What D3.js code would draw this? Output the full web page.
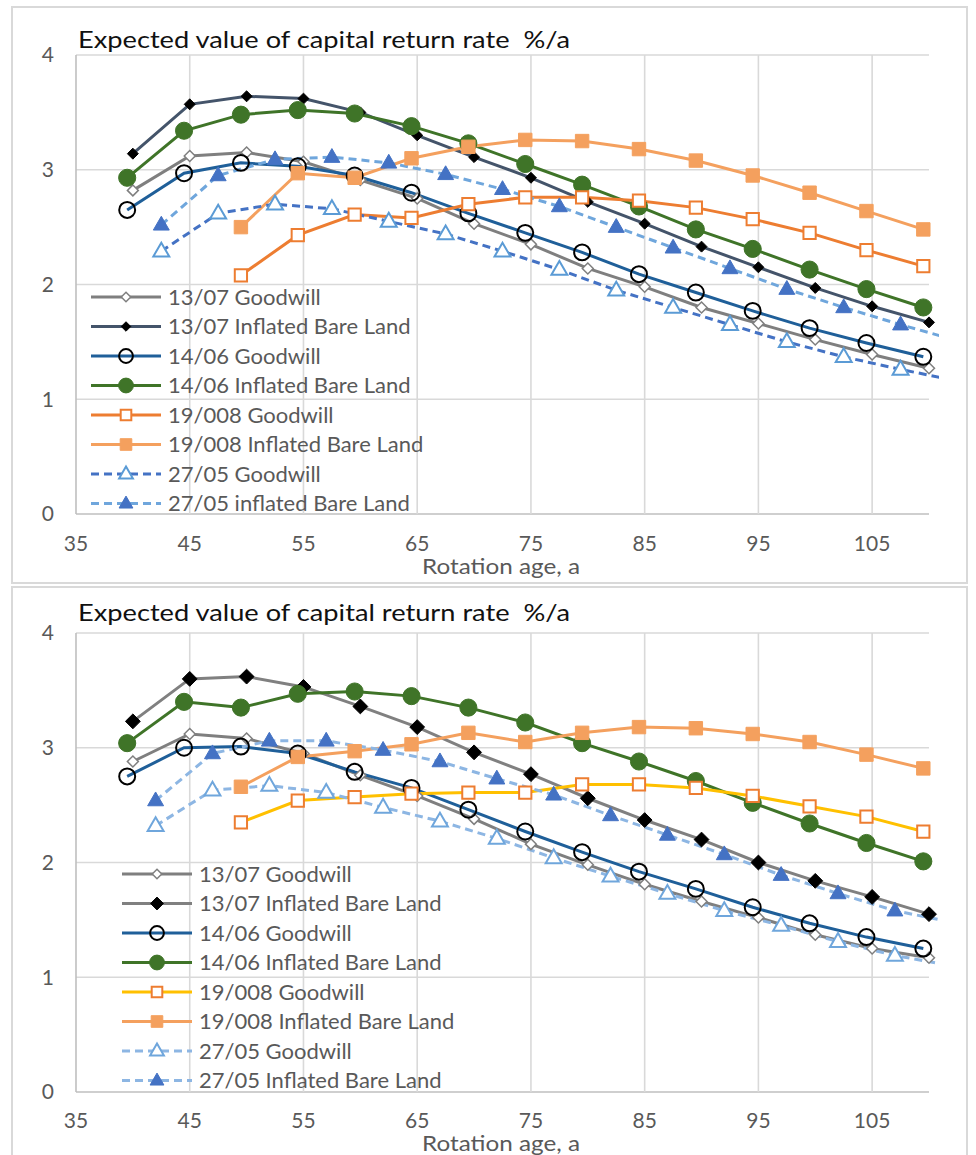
<!DOCTYPE html>
<html><head><meta charset="utf-8">
<script src="https://cdn.jsdelivr.net/npm/d3@7"></script>
<style>body{margin:0;background:#fff}svg{display:block}text{font-family:Lato,"Open Sans",sans-serif;white-space:pre}</style>
</head><body>
<svg id="c" width="976" height="1155"></svg>
<script>
// ---------- data ----------
const titleText = "Expected value of capital return rate  %/a";
const xAxisTitle = "Rotation age, a";
const xTicks = [35,45,55,65,75,85,95,105];
const yTicks = [0,1,2,3,4];

const x13 = [40,45,50,55,60,65,70,75,80,85,90,95,100,105,110];
const x14 = [39.5,44.5,49.5,54.5,59.5,64.5,69.5,74.5,79.5,84.5,89.5,94.5,99.5,104.5,109.5];
const x19 = [49.5,54.5,59.5,64.5,69.5,74.5,79.5,84.5,89.5,94.5,99.5,104.5,109.5];
const x27top = [42.5,47.5,52.5,57.5,62.5,67.5,72.5,77.5,82.5,87.5,92.5,97.5,102.5,107.5,112.5];
const x27bot = [42,47,52,57,62,67,72,77,82,87,92,97,102,107,112];

// top chart
const top13G = [2.82,3.12,3.15,3.07,2.91,2.75,2.53,2.35,2.14,1.98,1.80,1.66,1.52,1.39,1.27];
const top13I = [3.14,3.57,3.64,3.62,3.50,3.30,3.11,2.93,2.72,2.53,2.33,2.15,1.97,1.81,1.67];
const top14G = [2.65,2.97,3.06,3.03,2.95,2.80,2.62,2.45,2.28,2.09,1.93,1.77,1.62,1.49,1.37];
const top14I = [2.93,3.34,3.48,3.52,3.49,3.38,3.23,3.05,2.87,2.68,2.48,2.31,2.13,1.96,1.80];
const top19G = [2.08,2.43,2.61,2.58,2.70,2.76,2.76,2.73,2.67,2.57,2.45,2.30,2.16];
const top19I = [2.50,2.97,2.93,3.10,3.20,3.26,3.25,3.18,3.08,2.95,2.80,2.64,2.48];
const top27G = [2.29,2.62,2.70,2.66,2.55,2.44,2.29,2.13,1.95,1.80,1.65,1.50,1.37,1.26,1.16];
const top27I = [2.52,2.95,3.09,3.11,3.06,2.96,2.83,2.68,2.50,2.32,2.14,1.96,1.80,1.65,1.51];

// bottom chart
const bot13G = [2.88,3.12,3.08,2.95,2.76,2.58,2.38,2.16,1.98,1.81,1.66,1.52,1.37,1.25,1.17];
const bot13I = [3.23,3.60,3.62,3.53,3.36,3.18,2.96,2.77,2.56,2.37,2.20,2.00,1.84,1.70,1.55];
const bot14G = [2.75,3.00,3.01,2.95,2.79,2.65,2.46,2.27,2.09,1.92,1.77,1.61,1.47,1.35,1.25];
const bot14I = [3.04,3.40,3.35,3.47,3.49,3.45,3.35,3.22,3.04,2.88,2.71,2.52,2.34,2.17,2.01];
const bot19G = [2.35,2.54,2.57,2.60,2.61,2.61,2.68,2.68,2.65,2.58,2.49,2.40,2.27];
const bot19I = [2.66,2.92,2.97,3.03,3.13,3.05,3.13,3.18,3.17,3.12,3.05,2.94,2.82];
const bot27G = [2.32,2.63,2.67,2.61,2.48,2.36,2.21,2.04,1.88,1.73,1.58,1.45,1.31,1.19,1.10];
const bot27I = [2.54,2.95,3.06,3.06,2.98,2.88,2.73,2.59,2.41,2.24,2.07,1.89,1.73,1.58,1.48];

const topNames = ["13/07 Goodwill","13/07 Inflated Bare Land","14/06 Goodwill","14/06 Inflated Bare Land","19/008 Goodwill","19/008 Inflated Bare Land","27/05 Goodwill","27/05 inflated Bare Land"];
const botNames = ["13/07 Goodwill","13/07 Inflated Bare Land","14/06 Goodwill","14/06 Inflated Bare Land","19/008 Goodwill","19/008 Inflated Bare Land","27/05 Goodwill","27/05 Inflated Bare Land"];

// ---------- markers ----------
const shapes = {
  diamond: {draw(ctx,size){const r=Math.sqrt(size/2);ctx.moveTo(0,-r);ctx.lineTo(r,0);ctx.lineTo(0,r);ctx.lineTo(-r,0);ctx.closePath();}},
  circle: d3.symbolCircle,
  square: d3.symbolSquare,
  triangle: {draw(ctx,size){const s=Math.sqrt(size*4/Math.sqrt(3));const h=s*Math.sqrt(3)/2;ctx.moveTo(0,-h*0.62);ctx.lineTo(s/2,h*0.38);ctx.lineTo(-s/2,h*0.38);ctx.closePath();}}
};

const topSeries = [
  {x:x13,y:top13G,line:"#7f7f7f",shape:"diamond",size:60,fill:"#fff",stroke:"#7f7f7f",sw:1.5,dash:null},
  {x:x13,y:top13I,line:"#44546a",shape:"diamond",size:60,fill:"#000",stroke:"#000",sw:1,dash:null},
  {x:x14,y:top14G,line:"#1f5f99",shape:"circle",size:200,fill:"none",stroke:"#000",sw:2,dash:null},
  {x:x14,y:top14I,line:"#3f7428",shape:"circle",size:230,fill:"#3f7428",stroke:"#3f7428",sw:1,dash:null},
  {x:x19,y:top19G,line:"#ed7d31",shape:"square",size:150,fill:"#fff",stroke:"#ed7d31",sw:2,dash:null},
  {x:x19,y:top19I,line:"#f4a05e",shape:"square",size:180,fill:"#f4a05e",stroke:"#f4a05e",sw:1,dash:null},
  {x:x27top,y:top27G,line:"#4472c4",shape:"triangle",size:110,fill:"#fff",stroke:"#5b9bd5",sw:2,dash:"8,5"},
  {x:x27top,y:top27I,line:"#6fa6dc",shape:"triangle",size:110,fill:"#4472c4",stroke:"#4472c4",sw:1,dash:"8,5"}
];
const botSeries = [
  {x:x13,y:bot13G,line:"#7f7f7f",shape:"diamond",size:60,fill:"#fff",stroke:"#7f7f7f",sw:1.5,dash:null},
  {x:x13,y:bot13I,line:"#808080",shape:"diamond",size:110,fill:"#000",stroke:"#000",sw:1,dash:null},
  {x:x14,y:bot14G,line:"#1f5f99",shape:"circle",size:200,fill:"none",stroke:"#000",sw:2,dash:null},
  {x:x14,y:bot14I,line:"#3f7428",shape:"circle",size:230,fill:"#3f7428",stroke:"#3f7428",sw:1,dash:null},
  {x:x19,y:bot19G,line:"#ffc000",shape:"square",size:150,fill:"#fff",stroke:"#ed7d31",sw:2,dash:null},
  {x:x19,y:bot19I,line:"#f4a05e",shape:"square",size:180,fill:"#f4a05e",stroke:"#f4a05e",sw:1,dash:null},
  {x:x27bot,y:bot27G,line:"#8db6e3",shape:"triangle",size:110,fill:"#fff",stroke:"#6fa6dc",sw:2,dash:"8,5"},
  {x:x27bot,y:bot27I,line:"#8db6e3",shape:"triangle",size:110,fill:"#4472c4",stroke:"#4472c4",sw:1,dash:"8,5"}
];

const svg = d3.select("#c");

// panel borders
svg.append("rect").attr("x",12).attr("y",7).attr("width",955).attr("height",576).attr("fill","none").attr("stroke","#d9d9d9").attr("stroke-width",2);
svg.append("rect").attr("x",12).attr("y",587).attr("width",955).attr("height",580).attr("fill","none").attr("stroke","#d9d9d9").attr("stroke-width",2);

function chart(cfg){
  const g = svg.append("g");
  const x = d3.scaleLinear().domain([35,110]).range([76,929]);
  const y = d3.scaleLinear().domain([0,4]).range([cfg.bottom,cfg.top]);
  // grid
  g.append("g").selectAll("line").data(yTicks).join("line")
    .attr("x1",x(35)).attr("x2",x(110)).attr("y1",d=>y(d)).attr("y2",d=>y(d))
    .attr("stroke",d=>d===0?"#bfbfbf":"#d9d9d9").attr("stroke-width",1.6);
  g.append("g").selectAll("line").data(xTicks).join("line")
    .attr("x1",d=>x(d)).attr("x2",d=>x(d)).attr("y1",y(0)).attr("y2",y(4))
    .attr("stroke",d=>d===35?"#bfbfbf":"#d9d9d9").attr("stroke-width",1.6);
  // tick labels
  g.append("g").selectAll("text").data(yTicks).join("text")
    .attr("x",54).attr("y",d=>y(d)).attr("dy","0.35em").attr("text-anchor","end")
    .attr("font-size",21).attr("fill","#595959").text(d=>d);
  g.append("g").selectAll("text").data(xTicks).join("text")
    .attr("x",d=>x(d)).attr("y",cfg.xLabY).attr("text-anchor","middle")
    .attr("font-size",21).attr("fill","#595959").text(d=>d);
  g.append("text").attr("x",501).attr("y",cfg.xLabY+23).attr("text-anchor","middle")
    .attr("font-size",21).attr("fill","#595959")
    .attr("textLength",158).attr("lengthAdjust","spacingAndGlyphs").text(xAxisTitle);
  g.append("text").attr("x",78).attr("y",cfg.titleY).attr("font-size",24).attr("fill","#111")
    .attr("textLength",492).attr("lengthAdjust","spacingAndGlyphs").text(titleText);
  // clip
  const cid = "clip"+cfg.id;
  svg.append("clipPath").attr("id",cid).append("rect")
    .attr("x",x(35)).attr("y",y(4)-12).attr("width",x(110)-x(35)+10).attr("height",y(0)-y(4)+12);
  const plot = g.append("g").attr("clip-path",`url(#${cid})`);
  const line = d3.line().x(d=>x(d[0])).y(d=>y(d[1]));
  cfg.series.forEach(s=>{
    const pts = s.x.map((v,i)=>[v,s.y[i]]);
    plot.append("path").datum(pts).attr("d",line).attr("fill","none")
      .attr("stroke",s.line).attr("stroke-width",3).attr("stroke-dasharray",s.dash);
  });
  cfg.series.forEach(s=>{
    const pts = s.x.map((v,i)=>[v,s.y[i]]).filter(p=>p[0]<=110);
    plot.append("g").selectAll("path").data(pts).join("path")
      .attr("transform",d=>`translate(${x(d[0])},${y(d[1])})`)
      .attr("d",d3.symbol().type(shapes[s.shape]).size(s.size))
      .attr("fill",s.fill).attr("stroke",s.stroke).attr("stroke-width",s.sw);
  });
  // legend
  const lg = g.append("g");
  cfg.series.forEach((s,i)=>{
    const ly = cfg.legY + i*29.5;
    lg.append("line").attr("x1",cfg.legX).attr("x2",cfg.legX+70).attr("y1",ly).attr("y2",ly)
      .attr("stroke",s.line).attr("stroke-width",3).attr("stroke-dasharray",s.dash);
    lg.append("path").attr("transform",`translate(${cfg.legX+35},${ly})`)
      .attr("d",d3.symbol().type(shapes[s.shape]).size(s.size*0.75))
      .attr("fill",s.fill).attr("stroke",s.stroke).attr("stroke-width",s.sw);
    lg.append("text").attr("x",cfg.legX+77).attr("y",ly).attr("dy","0.35em")
      .attr("font-size",22).attr("fill","#595959").text(cfg.names[i]);
  });
}

chart({id:1,top:55,bottom:514,xLabY:551,titleY:48,series:topSeries,names:topNames,legX:91,legY:297});
chart({id:2,top:633,bottom:1092,xLabY:1128,titleY:621,series:botSeries,names:botNames,legX:122,legY:874});
</script>
</body></html>
